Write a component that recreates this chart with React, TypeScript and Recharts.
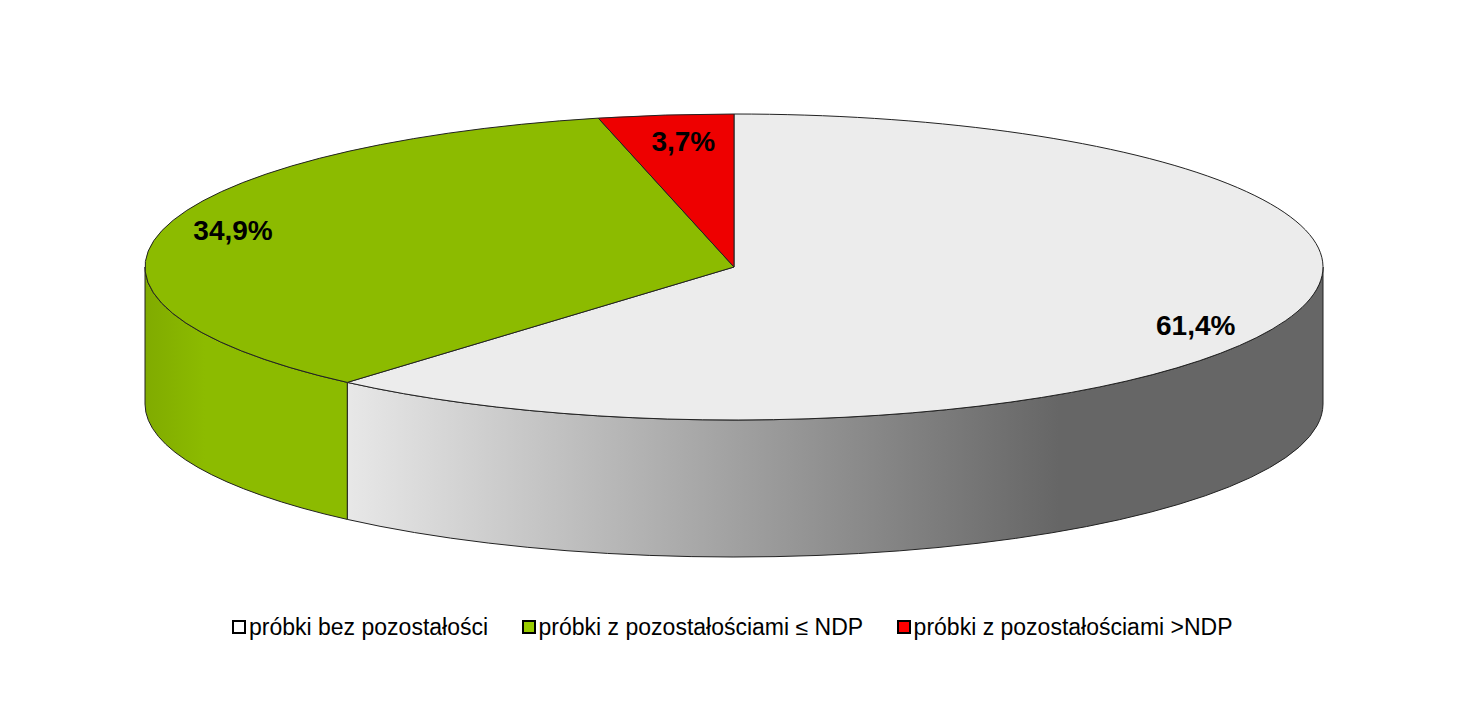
import { PieChart, Pie, Legend } from "recharts";

const categories = ["próbki bez pozostałości", "próbki z pozostałościami ≤ NDP", "próbki z pozostałościami >NDP"];
const shares = [61.4, 34.9, 3.7];
const topColors = ["#ececec", "#8cbb00", "#ee0000"];
const legendColors = ["#ffffff", "#99cc00", "#ff0000"];

const data = categories.map((name, i) => ({ name, value: shares[i], fill: topColors[i] }));

// the pie is a flat disc seen from an angle, so circle radius -> ellipse
const CX = 734;
const CY = 267;
const RX = 589;
const RY = 153;
const DEPTH = 137;

// hand tuned label spots (fraction of radius along mid angle), like excel put them
const labelSpots = [
    [0.837, 1.1],
    [0.876, 0.99],
    [0.742, 0.823],
];

const rad = (a: number) => (a * Math.PI) / 180;
const px = (a: number) => CX + RX * Math.cos(rad(a));
const py = (a: number) => CY - RY * Math.sin(rad(a));

const DiscSlice = (props: any) => {
    const { startAngle, endAngle, fill } = props;
    const large = Math.abs(startAngle - endAngle) > 180 ? 1 : 0;
    const top = `M${CX},${CY} L${px(startAngle)},${py(startAngle)} A${RX},${RY} 0 ${large} 1 ${px(endAngle)},${py(endAngle)} Z`;

    // only the front half of the rim can be seen
    const from = Math.min(startAngle, 0);
    const to = Math.max(endAngle, -180);
    let rim = null;
    if (from > to) {
        const side =
            `M${px(from)},${py(from)} A${RX},${RY} 0 0 1 ${px(to)},${py(to)} ` +
            `L${px(to)},${py(to) + DEPTH} A${RX},${RY} 0 0 0 ${px(from)},${py(from) + DEPTH} Z`;
        const rimFill = fill === topColors[0] ? "url(#rimGrey)" : "url(#rimGreen)";
        rim = <path d={side} fill={rimFill} stroke="#222222" strokeWidth={1} />;
    }

    return (
        <g>
            {rim}
            <path d={top} fill={fill} stroke="#222222" strokeWidth={1} strokeLinejoin="round" />
        </g>
    );
};

const renderLabel = ({ midAngle, value, index }: any) => {
    const [fx, fy] = labelSpots[index];
    return (
        <text
            x={CX + RX * fx * Math.cos(rad(midAngle))}
            y={CY - RY * fy * Math.sin(rad(midAngle))}
            textAnchor="middle"
            dominantBaseline="central"
            fontFamily="'Liberation Sans', Arial, sans-serif"
            fontWeight="bold"
            fontSize={28}
            fill="#000000"
        >
            {value.toFixed(1).replace(".", ",")}%
        </text>
    );
};

const LegendRow = () => (
    <div
        style={{
            display: "flex",
            paddingLeft: 232,
            gap: 33.5,
            fontFamily: "'Liberation Sans', Arial, sans-serif",
            fontSize: 23,
            lineHeight: "28px",
            color: "#000000",
            whiteSpace: "nowrap",
        }}
    >
        {categories.map((name, i) => (
            <div key={name} style={{ display: "flex", alignItems: "center" }}>
                <span
                    style={{
                        width: 10,
                        height: 10,
                        border: "2px solid #000000",
                        background: legendColors[i],
                        marginRight: 3,
                    }}
                />
                {name}
            </div>
        ))}
    </div>
);

export default function App() {
    return (
        <div style={{ position: "absolute", left: 0, top: 0, width: 1466, height: 707, background: "#ffffff" }}>
            <PieChart width={1466} height={707}>
                <defs>
                    <linearGradient id="rimGrey" gradientUnits="userSpaceOnUse" x1={345} y1={0} x2={1323} y2={0}>
                        <stop offset="0" stopColor="#e8e8e8" />
                        <stop offset="0.73" stopColor="#666666" />
                        <stop offset="1" stopColor="#666666" />
                    </linearGradient>
                    <linearGradient id="rimGreen" gradientUnits="userSpaceOnUse" x1={145} y1={0} x2={345} y2={0}>
                        <stop offset="0" stopColor="#80ab00" />
                        <stop offset="0.3" stopColor="#8cbb00" />
                        <stop offset="1" stopColor="#8cbb00" />
                    </linearGradient>
                </defs>
                <Pie
                    data={data}
                    dataKey="value"
                    nameKey="name"
                    cx={CX}
                    cy={CY}
                    outerRadius={RX}
                    startAngle={90}
                    endAngle={-270}
                    isAnimationActive={false}
                    shape={DiscSlice}
                    label={renderLabel}
                    labelLine={false}
                />
                <Legend
                    content={<LegendRow />}
                    wrapperStyle={{ position: "absolute", left: 0, top: 613, width: 1466 }}
                />
            </PieChart>
        </div>
    );
}
